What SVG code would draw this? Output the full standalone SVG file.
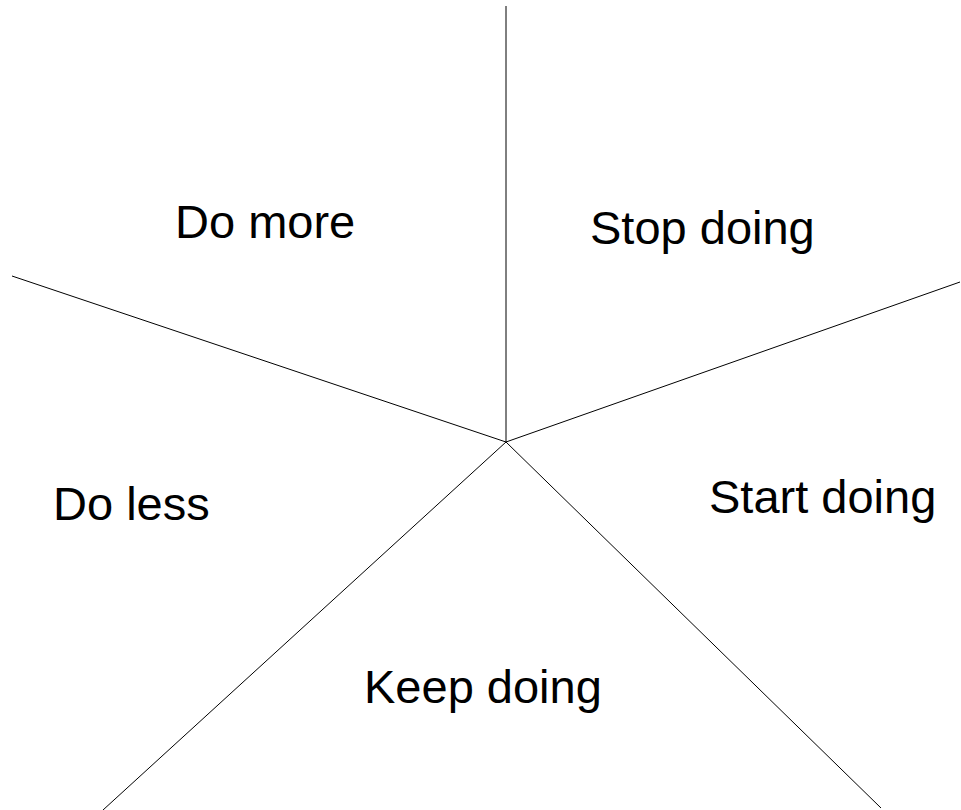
<svg xmlns="http://www.w3.org/2000/svg" width="961" height="810" viewBox="0 0 961 810">
<style>
.l{stroke:#000;stroke-width:1;fill:none}
text{font-family:"Liberation Sans",Arial,sans-serif;font-size:47px;fill:#000}
</style>
<rect width="961" height="810" fill="#fff"/>
<g id="connectors">
<line class="l" x1="506" y1="442" x2="506" y2="6"/>
<line class="l" x1="506" y1="442" x2="12" y2="276"/>
<line class="l" x1="506" y1="442" x2="960" y2="282"/>
<line class="l" x1="506" y1="442" x2="103" y2="810"/>
<line class="l" x1="506" y1="442" x2="881" y2="808"/>
</g>
<g id="do-more"><text x="175" y="238">Do more</text></g>
<g id="stop-doing"><text x="590" y="244">Stop doing</text></g>
<g id="do-less"><text x="53" y="520">Do less</text></g>
<g id="start-doing"><text x="709" y="513">Start doing</text></g>
<g id="keep-doing"><text x="364" y="703">Keep doing</text></g>
</svg>
